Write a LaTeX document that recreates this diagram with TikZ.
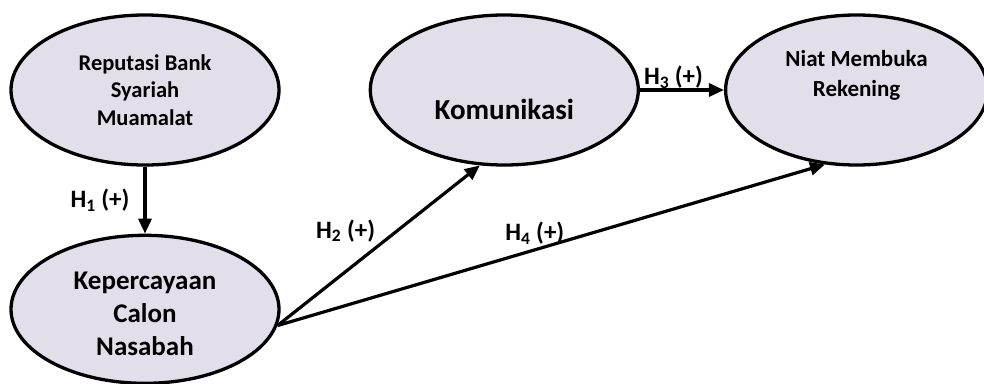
\documentclass[tikz,border=0pt]{standalone}
\usepackage{fontspec}
\setmainfont{Carlito}
\usepackage{tikz}
\usetikzlibrary{positioning,arrows.meta,shapes.geometric}
\definecolor{lavender}{HTML}{E2DEEA}

\begin{document}
\begin{tikzpicture}[
  x=1pt,y=-1pt,
  latent/.style={ellipse,draw=black,line width=3.3pt,fill=lavender,minimum width=268pt,minimum height=150pt,inner sep=0pt,align=center},
  arr/.style={-{Triangle[length=15pt,width=13pt]},line width=3.2pt},
  hyp/.style={font=\bfseries\fontsize{25}{28}\selectfont,inner sep=2pt}
]
  \useasboundingbox (0,0) rectangle (984,383);
  \node[latent,font=\bfseries\fontsize{22.5}{27.5}\selectfont] (rep) at (145,90) {Reputasi Bank\\Syariah\\Muamalat};
  \node[latent,below=67pt of rep,minimum height=148pt,text height=92pt,font=\bfseries\fontsize{27}{33}\selectfont] (kep) {Kepercayaan\\Calon\\Nasabah};
  \node[latent,right=88pt of rep,text height=59pt,font=\bfseries\fontsize{29}{33}\selectfont] (kom) {Komunikasi};
  \node[latent,right=84pt of kom,minimum width=262pt,text depth=34pt,font=\bfseries\fontsize{23}{30}\selectfont] (niat) {Niat Membuka\\Rekening};
  \draw[arr] (rep) -- node[hyp,midway,left=12pt] {H\textsubscript{1} (+)} (kep);
  \draw[arr] (kep.-7) -- node[hyp,midway,above left=0pt] {H\textsubscript{2} (+)} (kom.-108);
  \draw[arr] (kom) -- node[hyp,pos=0.4,above=-2pt] {H\textsubscript{3} (+)} (niat);
  \draw[arr] (kep.-7) -- node[hyp,pos=0.47,above=2pt] {H\textsubscript{4} (+)} (niat.-113);
\end{tikzpicture}
\end{document}
